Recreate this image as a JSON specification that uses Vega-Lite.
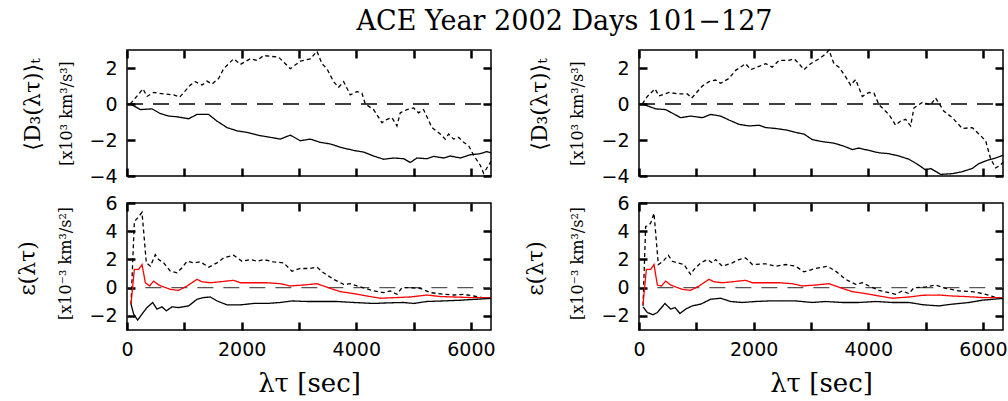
{
  "$schema": "https://vega.github.io/schema/vega-lite/v6.json",
  "padding": {"left": 15, "top": 7, "right": 5, "bottom": 5},
  "background": "white",
  "title": {"text": "ACE Year 2002 Days 101−127", "font": "DejaVu Serif", "fontSize": 27, "fontWeight": "normal", "color": "black", "anchor": "middle", "dx": 53, "offset": 11},
  "config": {
    "view": {"stroke": "black", "strokeWidth": 1.5},
    "axis": {"zindex": 1, "ticks": true, "domain": false, "grid": false, "offset": -8, "tickColor": "black", "tickOpacity": 1, "tickWidth": 2.5, "tickSize": 8, "labelFont": "DejaVu Sans", "labelFontSize": 19, "labelColor": "black", "labelPadding": 10, "labelFlush": false, "labelOverlap": false, "titleFont": "DejaVu Serif", "titleFontWeight": "normal", "titleColor": "black"},
    "line": {"clip": true}
  },
  "datasets": {
    "d": [
      {"p":"TL","s":"zero","t":0,"v":0},{"p":"TL","s":"zero","t":6350,"v":0},
      {"p":"TR","s":"zero","t":0,"v":0},{"p":"TR","s":"zero","t":6350,"v":0},
      {"p":"BL","s":"zeroB","t":320,"v":0},{"p":"BL","s":"zeroB","t":6350,"v":0},
      {"p":"BR","s":"zeroB","t":320,"v":0},{"p":"BR","s":"zeroB","t":6350,"v":0},

      {"p":"TL","s":"dashed","t":58,"v":0},{"p":"TL","s":"dashed","t":279,"v":0.84},{"p":"TL","s":"dashed","t":349,"v":0.42},{"p":"TL","s":"dashed","t":465,"v":0.64},{"p":"TL","s":"dashed","t":640,"v":0.56},{"p":"TL","s":"dashed","t":814,"v":0.51},{"p":"TL","s":"dashed","t":919,"v":0.38},{"p":"TL","s":"dashed","t":1105,"v":1.05},{"p":"TL","s":"dashed","t":1190,"v":1.24},{"p":"TL","s":"dashed","t":1308,"v":1.05},{"p":"TL","s":"dashed","t":1395,"v":1.27},{"p":"TL","s":"dashed","t":1483,"v":1.11},{"p":"TL","s":"dashed","t":1599,"v":1.42},{"p":"TL","s":"dashed","t":1686,"v":1.96},{"p":"TL","s":"dashed","t":1860,"v":2.51},{"p":"TL","s":"dashed","t":1977,"v":2.2},{"p":"TL","s":"dashed","t":2151,"v":2.51},{"p":"TL","s":"dashed","t":2267,"v":2.42},{"p":"TL","s":"dashed","t":2384,"v":2.69},{"p":"TL","s":"dashed","t":2529,"v":2.64},{"p":"TL","s":"dashed","t":2645,"v":2.6},{"p":"TL","s":"dashed","t":2733,"v":2.33},{"p":"TL","s":"dashed","t":2849,"v":1.96},{"p":"TL","s":"dashed","t":3023,"v":2.38},{"p":"TL","s":"dashed","t":3198,"v":2.51},{"p":"TL","s":"dashed","t":3314,"v":2.93},{"p":"TL","s":"dashed","t":3401,"v":2.24},{"p":"TL","s":"dashed","t":3488,"v":1.96},{"p":"TL","s":"dashed","t":3605,"v":1.24},{"p":"TL","s":"dashed","t":3692,"v":0.93},{"p":"TL","s":"dashed","t":3779,"v":1.24},{"p":"TL","s":"dashed","t":3895,"v":0.51},{"p":"TL","s":"dashed","t":4012,"v":0.69},{"p":"TL","s":"dashed","t":4099,"v":0.6},{"p":"TL","s":"dashed","t":4157,"v":0},{"p":"TL","s":"dashed","t":4302,"v":-0.31},{"p":"TL","s":"dashed","t":4448,"v":-1.04},{"p":"TL","s":"dashed","t":4506,"v":-0.89},{"p":"TL","s":"dashed","t":4622,"v":-0.76},{"p":"TL","s":"dashed","t":4709,"v":-1.22},{"p":"TL","s":"dashed","t":4767,"v":-0.49},{"p":"TL","s":"dashed","t":4884,"v":-0.31},{"p":"TL","s":"dashed","t":5000,"v":-0.22},{"p":"TL","s":"dashed","t":5087,"v":-0.49},{"p":"TL","s":"dashed","t":5174,"v":-0.31},{"p":"TL","s":"dashed","t":5320,"v":-1.31},{"p":"TL","s":"dashed","t":5465,"v":-1.67},{"p":"TL","s":"dashed","t":5552,"v":-1.95},{"p":"TL","s":"dashed","t":5610,"v":-1.67},{"p":"TL","s":"dashed","t":5698,"v":-1.95},{"p":"TL","s":"dashed","t":5785,"v":-1.85},{"p":"TL","s":"dashed","t":5872,"v":-2.13},{"p":"TL","s":"dashed","t":5959,"v":-2.31},{"p":"TL","s":"dashed","t":6047,"v":-2.85},{"p":"TL","s":"dashed","t":6163,"v":-3.4},{"p":"TL","s":"dashed","t":6221,"v":-3.85},{"p":"TL","s":"dashed","t":6308,"v":-3.4},{"p":"TL","s":"dashed","t":6350,"v":-3.2},

      {"p":"TL","s":"solid","t":58,"v":0},{"p":"TL","s":"solid","t":233,"v":-0.31},{"p":"TL","s":"solid","t":436,"v":-0.27},{"p":"TL","s":"solid","t":581,"v":-0.53},{"p":"TL","s":"solid","t":727,"v":-0.67},{"p":"TL","s":"solid","t":872,"v":-0.71},{"p":"TL","s":"solid","t":1076,"v":-0.82},{"p":"TL","s":"solid","t":1221,"v":-0.58},{"p":"TL","s":"solid","t":1424,"v":-0.58},{"p":"TL","s":"solid","t":1570,"v":-0.95},{"p":"TL","s":"solid","t":1744,"v":-1.31},{"p":"TL","s":"solid","t":1919,"v":-1.49},{"p":"TL","s":"solid","t":2093,"v":-1.58},{"p":"TL","s":"solid","t":2209,"v":-1.67},{"p":"TL","s":"solid","t":2326,"v":-1.76},{"p":"TL","s":"solid","t":2500,"v":-1.85},{"p":"TL","s":"solid","t":2674,"v":-1.95},{"p":"TL","s":"solid","t":2849,"v":-1.73},{"p":"TL","s":"solid","t":3023,"v":-2.04},{"p":"TL","s":"solid","t":3198,"v":-1.95},{"p":"TL","s":"solid","t":3372,"v":-2.13},{"p":"TL","s":"solid","t":3547,"v":-2.22},{"p":"TL","s":"solid","t":3721,"v":-2.4},{"p":"TL","s":"solid","t":3953,"v":-2.58},{"p":"TL","s":"solid","t":4128,"v":-2.67},{"p":"TL","s":"solid","t":4302,"v":-2.89},{"p":"TL","s":"solid","t":4477,"v":-3.07},{"p":"TL","s":"solid","t":4651,"v":-3.0},{"p":"TL","s":"solid","t":4826,"v":-3.04},{"p":"TL","s":"solid","t":4942,"v":-3.25},{"p":"TL","s":"solid","t":5058,"v":-3.0},{"p":"TL","s":"solid","t":5233,"v":-3.04},{"p":"TL","s":"solid","t":5349,"v":-2.91},{"p":"TL","s":"solid","t":5523,"v":-3.0},{"p":"TL","s":"solid","t":5640,"v":-2.89},{"p":"TL","s":"solid","t":5814,"v":-3.0},{"p":"TL","s":"solid","t":5988,"v":-2.82},{"p":"TL","s":"solid","t":6163,"v":-2.76},{"p":"TL","s":"solid","t":6279,"v":-2.64},{"p":"TL","s":"solid","t":6350,"v":-2.71},

      {"p":"TR","s":"dashed","t":58,"v":0},{"p":"TR","s":"dashed","t":145,"v":0.42},{"p":"TR","s":"dashed","t":279,"v":0.84},{"p":"TR","s":"dashed","t":349,"v":0.45},{"p":"TR","s":"dashed","t":523,"v":0.64},{"p":"TR","s":"dashed","t":698,"v":0.56},{"p":"TR","s":"dashed","t":843,"v":0.56},{"p":"TR","s":"dashed","t":919,"v":0.33},{"p":"TR","s":"dashed","t":1105,"v":1.0},{"p":"TR","s":"dashed","t":1221,"v":1.24},{"p":"TR","s":"dashed","t":1337,"v":1.33},{"p":"TR","s":"dashed","t":1424,"v":1.15},{"p":"TR","s":"dashed","t":1570,"v":1.42},{"p":"TR","s":"dashed","t":1686,"v":1.87},{"p":"TR","s":"dashed","t":1860,"v":2.24},{"p":"TR","s":"dashed","t":1948,"v":1.91},{"p":"TR","s":"dashed","t":2093,"v":2.09},{"p":"TR","s":"dashed","t":2209,"v":2.24},{"p":"TR","s":"dashed","t":2326,"v":2.05},{"p":"TR","s":"dashed","t":2442,"v":2.42},{"p":"TR","s":"dashed","t":2616,"v":2.42},{"p":"TR","s":"dashed","t":2703,"v":2.51},{"p":"TR","s":"dashed","t":2791,"v":2.24},{"p":"TR","s":"dashed","t":2878,"v":1.91},{"p":"TR","s":"dashed","t":2994,"v":2.24},{"p":"TR","s":"dashed","t":3140,"v":2.51},{"p":"TR","s":"dashed","t":3256,"v":2.78},{"p":"TR","s":"dashed","t":3314,"v":3.0},{"p":"TR","s":"dashed","t":3401,"v":2.24},{"p":"TR","s":"dashed","t":3488,"v":2.05},{"p":"TR","s":"dashed","t":3605,"v":1.51},{"p":"TR","s":"dashed","t":3692,"v":1.05},{"p":"TR","s":"dashed","t":3779,"v":1.36},{"p":"TR","s":"dashed","t":3895,"v":0.42},{"p":"TR","s":"dashed","t":4012,"v":0.64},{"p":"TR","s":"dashed","t":4099,"v":0.6},{"p":"TR","s":"dashed","t":4186,"v":-0.04},{"p":"TR","s":"dashed","t":4360,"v":-0.58},{"p":"TR","s":"dashed","t":4477,"v":-1.18},{"p":"TR","s":"dashed","t":4564,"v":-0.95},{"p":"TR","s":"dashed","t":4651,"v":-0.85},{"p":"TR","s":"dashed","t":4738,"v":-1.22},{"p":"TR","s":"dashed","t":4797,"v":-0.22},{"p":"TR","s":"dashed","t":4942,"v":0.09},{"p":"TR","s":"dashed","t":5087,"v":-0.04},{"p":"TR","s":"dashed","t":5174,"v":0.33},{"p":"TR","s":"dashed","t":5320,"v":-0.4},{"p":"TR","s":"dashed","t":5465,"v":-0.76},{"p":"TR","s":"dashed","t":5640,"v":-1.36},{"p":"TR","s":"dashed","t":5814,"v":-1.31},{"p":"TR","s":"dashed","t":5959,"v":-1.76},{"p":"TR","s":"dashed","t":6047,"v":-2.04},{"p":"TR","s":"dashed","t":6134,"v":-3.04},{"p":"TR","s":"dashed","t":6221,"v":-3.55},{"p":"TR","s":"dashed","t":6308,"v":-3.4},{"p":"TR","s":"dashed","t":6350,"v":-3.22},

      {"p":"TR","s":"solid","t":58,"v":0},{"p":"TR","s":"solid","t":291,"v":-0.27},{"p":"TR","s":"solid","t":465,"v":-0.31},{"p":"TR","s":"solid","t":727,"v":-0.76},{"p":"TR","s":"solid","t":901,"v":-0.67},{"p":"TR","s":"solid","t":1105,"v":-0.76},{"p":"TR","s":"solid","t":1250,"v":-0.58},{"p":"TR","s":"solid","t":1424,"v":-0.67},{"p":"TR","s":"solid","t":1570,"v":-0.89},{"p":"TR","s":"solid","t":1744,"v":-1.13},{"p":"TR","s":"solid","t":1919,"v":-1.22},{"p":"TR","s":"solid","t":2093,"v":-1.18},{"p":"TR","s":"solid","t":2209,"v":-1.31},{"p":"TR","s":"solid","t":2384,"v":-1.36},{"p":"TR","s":"solid","t":2558,"v":-1.44},{"p":"TR","s":"solid","t":2733,"v":-1.58},{"p":"TR","s":"solid","t":2878,"v":-1.67},{"p":"TR","s":"solid","t":3023,"v":-1.98},{"p":"TR","s":"solid","t":3198,"v":-2.09},{"p":"TR","s":"solid","t":3372,"v":-2.16},{"p":"TR","s":"solid","t":3547,"v":-2.31},{"p":"TR","s":"solid","t":3721,"v":-2.53},{"p":"TR","s":"solid","t":3837,"v":-2.45},{"p":"TR","s":"solid","t":4012,"v":-2.58},{"p":"TR","s":"solid","t":4186,"v":-2.71},{"p":"TR","s":"solid","t":4360,"v":-2.76},{"p":"TR","s":"solid","t":4535,"v":-2.89},{"p":"TR","s":"solid","t":4709,"v":-3.07},{"p":"TR","s":"solid","t":4884,"v":-3.4},{"p":"TR","s":"solid","t":5000,"v":-3.67},{"p":"TR","s":"solid","t":5087,"v":-3.58},{"p":"TR","s":"solid","t":5262,"v":-3.91},{"p":"TR","s":"solid","t":5465,"v":-3.87},{"p":"TR","s":"solid","t":5640,"v":-3.76},{"p":"TR","s":"solid","t":5814,"v":-3.58},{"p":"TR","s":"solid","t":5930,"v":-3.31},{"p":"TR","s":"solid","t":6076,"v":-3.13},{"p":"TR","s":"solid","t":6221,"v":-3.0},{"p":"TR","s":"solid","t":6350,"v":-2.85},

      {"p":"BL","s":"dashed","t":70,"v":-1.17},{"p":"BL","s":"dashed","t":128,"v":4.68},{"p":"BL","s":"dashed","t":203,"v":5.03},{"p":"BL","s":"dashed","t":262,"v":5.34},{"p":"BL","s":"dashed","t":337,"v":1.76},{"p":"BL","s":"dashed","t":407,"v":1.52},{"p":"BL","s":"dashed","t":494,"v":2.34},{"p":"BL","s":"dashed","t":552,"v":1.99},{"p":"BL","s":"dashed","t":640,"v":1.76},{"p":"BL","s":"dashed","t":756,"v":1.17},{"p":"BL","s":"dashed","t":872,"v":1.05},{"p":"BL","s":"dashed","t":959,"v":1.41},{"p":"BL","s":"dashed","t":1047,"v":1.87},{"p":"BL","s":"dashed","t":1163,"v":1.76},{"p":"BL","s":"dashed","t":1279,"v":1.83},{"p":"BL","s":"dashed","t":1424,"v":1.45},{"p":"BL","s":"dashed","t":1570,"v":1.76},{"p":"BL","s":"dashed","t":1686,"v":2.11},{"p":"BL","s":"dashed","t":1860,"v":2.3},{"p":"BL","s":"dashed","t":2006,"v":1.87},{"p":"BL","s":"dashed","t":2151,"v":1.99},{"p":"BL","s":"dashed","t":2267,"v":1.87},{"p":"BL","s":"dashed","t":2384,"v":1.99},{"p":"BL","s":"dashed","t":2558,"v":1.83},{"p":"BL","s":"dashed","t":2733,"v":1.76},{"p":"BL","s":"dashed","t":2878,"v":1.17},{"p":"BL","s":"dashed","t":3023,"v":1.36},{"p":"BL","s":"dashed","t":3198,"v":1.36},{"p":"BL","s":"dashed","t":3314,"v":1.45},{"p":"BL","s":"dashed","t":3430,"v":1.05},{"p":"BL","s":"dashed","t":3605,"v":0.59},{"p":"BL","s":"dashed","t":3779,"v":0.23},{"p":"BL","s":"dashed","t":3895,"v":0.28},{"p":"BL","s":"dashed","t":4012,"v":0.12},{"p":"BL","s":"dashed","t":4157,"v":-0.05},{"p":"BL","s":"dashed","t":4302,"v":-0.23},{"p":"BL","s":"dashed","t":4477,"v":-0.35},{"p":"BL","s":"dashed","t":4593,"v":-0.23},{"p":"BL","s":"dashed","t":4709,"v":-0.47},{"p":"BL","s":"dashed","t":4797,"v":0.0},{"p":"BL","s":"dashed","t":4942,"v":0.0},{"p":"BL","s":"dashed","t":5116,"v":-0.05},{"p":"BL","s":"dashed","t":5291,"v":-0.35},{"p":"BL","s":"dashed","t":5523,"v":-0.47},{"p":"BL","s":"dashed","t":5698,"v":-0.52},{"p":"BL","s":"dashed","t":5872,"v":-0.47},{"p":"BL","s":"dashed","t":6047,"v":-0.59},{"p":"BL","s":"dashed","t":6192,"v":-0.7},{"p":"BL","s":"dashed","t":6350,"v":-0.75},

      {"p":"BL","s":"red","t":70,"v":-1.17},{"p":"BL","s":"red","t":128,"v":1.29},{"p":"BL","s":"red","t":203,"v":1.29},{"p":"BL","s":"red","t":262,"v":1.64},{"p":"BL","s":"red","t":320,"v":0.35},{"p":"BL","s":"red","t":395,"v":0.12},{"p":"BL","s":"red","t":465,"v":0.47},{"p":"BL","s":"red","t":552,"v":0.19},{"p":"BL","s":"red","t":640,"v":0.05},{"p":"BL","s":"red","t":756,"v":-0.12},{"p":"BL","s":"red","t":901,"v":-0.19},{"p":"BL","s":"red","t":1047,"v":0.12},{"p":"BL","s":"red","t":1221,"v":0.59},{"p":"BL","s":"red","t":1308,"v":0.42},{"p":"BL","s":"red","t":1453,"v":0.35},{"p":"BL","s":"red","t":1628,"v":0.42},{"p":"BL","s":"red","t":1860,"v":0.52},{"p":"BL","s":"red","t":1977,"v":0.35},{"p":"BL","s":"red","t":2209,"v":0.35},{"p":"BL","s":"red","t":2442,"v":0.35},{"p":"BL","s":"red","t":2674,"v":0.28},{"p":"BL","s":"red","t":2849,"v":0.12},{"p":"BL","s":"red","t":3081,"v":0.19},{"p":"BL","s":"red","t":3314,"v":0.28},{"p":"BL","s":"red","t":3547,"v":-0.05},{"p":"BL","s":"red","t":3721,"v":-0.28},{"p":"BL","s":"red","t":3953,"v":-0.42},{"p":"BL","s":"red","t":4186,"v":-0.59},{"p":"BL","s":"red","t":4419,"v":-0.75},{"p":"BL","s":"red","t":4709,"v":-0.7},{"p":"BL","s":"red","t":4942,"v":-0.66},{"p":"BL","s":"red","t":5233,"v":-0.52},{"p":"BL","s":"red","t":5465,"v":-0.63},{"p":"BL","s":"red","t":5698,"v":-0.66},{"p":"BL","s":"red","t":5988,"v":-0.7},{"p":"BL","s":"red","t":6350,"v":-0.72},

      {"p":"BL","s":"solid","t":70,"v":-1.17},{"p":"BL","s":"solid","t":116,"v":-1.87},{"p":"BL","s":"solid","t":186,"v":-2.3},{"p":"BL","s":"solid","t":262,"v":-1.87},{"p":"BL","s":"solid","t":349,"v":-1.41},{"p":"BL","s":"solid","t":448,"v":-1.05},{"p":"BL","s":"solid","t":523,"v":-1.52},{"p":"BL","s":"solid","t":610,"v":-1.36},{"p":"BL","s":"solid","t":686,"v":-1.64},{"p":"BL","s":"solid","t":785,"v":-1.36},{"p":"BL","s":"solid","t":901,"v":-1.41},{"p":"BL","s":"solid","t":1076,"v":-1.29},{"p":"BL","s":"solid","t":1221,"v":-0.82},{"p":"BL","s":"solid","t":1337,"v":-0.7},{"p":"BL","s":"solid","t":1453,"v":-0.66},{"p":"BL","s":"solid","t":1570,"v":-0.94},{"p":"BL","s":"solid","t":1744,"v":-1.22},{"p":"BL","s":"solid","t":1977,"v":-1.22},{"p":"BL","s":"solid","t":2209,"v":-1.12},{"p":"BL","s":"solid","t":2442,"v":-1.12},{"p":"BL","s":"solid","t":2674,"v":-1.05},{"p":"BL","s":"solid","t":2878,"v":-0.94},{"p":"BL","s":"solid","t":3140,"v":-0.98},{"p":"BL","s":"solid","t":3372,"v":-0.98},{"p":"BL","s":"solid","t":3663,"v":-0.98},{"p":"BL","s":"solid","t":3953,"v":-1.05},{"p":"BL","s":"solid","t":4302,"v":-1.12},{"p":"BL","s":"solid","t":4535,"v":-1.08},{"p":"BL","s":"solid","t":4826,"v":-1.05},{"p":"BL","s":"solid","t":5000,"v":-1.12},{"p":"BL","s":"solid","t":5233,"v":-0.98},{"p":"BL","s":"solid","t":5523,"v":-0.94},{"p":"BL","s":"solid","t":5814,"v":-0.89},{"p":"BL","s":"solid","t":6105,"v":-0.82},{"p":"BL","s":"solid","t":6350,"v":-0.76},

      {"p":"BR","s":"dashed","t":70,"v":-1.29},{"p":"BR","s":"dashed","t":116,"v":4.33},{"p":"BR","s":"dashed","t":163,"v":4.4},{"p":"BR","s":"dashed","t":203,"v":4.57},{"p":"BR","s":"dashed","t":262,"v":5.27},{"p":"BR","s":"dashed","t":337,"v":1.64},{"p":"BR","s":"dashed","t":419,"v":1.87},{"p":"BR","s":"dashed","t":512,"v":2.3},{"p":"BR","s":"dashed","t":581,"v":1.87},{"p":"BR","s":"dashed","t":669,"v":1.76},{"p":"BR","s":"dashed","t":785,"v":1.64},{"p":"BR","s":"dashed","t":901,"v":0.94},{"p":"BR","s":"dashed","t":959,"v":1.29},{"p":"BR","s":"dashed","t":1076,"v":1.76},{"p":"BR","s":"dashed","t":1192,"v":1.99},{"p":"BR","s":"dashed","t":1279,"v":1.76},{"p":"BR","s":"dashed","t":1337,"v":1.99},{"p":"BR","s":"dashed","t":1453,"v":1.52},{"p":"BR","s":"dashed","t":1628,"v":1.76},{"p":"BR","s":"dashed","t":1744,"v":1.99},{"p":"BR","s":"dashed","t":1860,"v":2.11},{"p":"BR","s":"dashed","t":1977,"v":1.64},{"p":"BR","s":"dashed","t":2209,"v":1.69},{"p":"BR","s":"dashed","t":2384,"v":1.52},{"p":"BR","s":"dashed","t":2558,"v":1.64},{"p":"BR","s":"dashed","t":2733,"v":1.52},{"p":"BR","s":"dashed","t":2878,"v":1.12},{"p":"BR","s":"dashed","t":3081,"v":1.36},{"p":"BR","s":"dashed","t":3285,"v":1.52},{"p":"BR","s":"dashed","t":3430,"v":1.17},{"p":"BR","s":"dashed","t":3605,"v":0.59},{"p":"BR","s":"dashed","t":3779,"v":0.23},{"p":"BR","s":"dashed","t":3895,"v":0.35},{"p":"BR","s":"dashed","t":4012,"v":0.12},{"p":"BR","s":"dashed","t":4186,"v":-0.19},{"p":"BR","s":"dashed","t":4360,"v":-0.35},{"p":"BR","s":"dashed","t":4477,"v":-0.47},{"p":"BR","s":"dashed","t":4593,"v":-0.23},{"p":"BR","s":"dashed","t":4709,"v":-0.42},{"p":"BR","s":"dashed","t":4797,"v":0.0},{"p":"BR","s":"dashed","t":5000,"v":0.05},{"p":"BR","s":"dashed","t":5174,"v":0.19},{"p":"BR","s":"dashed","t":5349,"v":-0.05},{"p":"BR","s":"dashed","t":5581,"v":-0.23},{"p":"BR","s":"dashed","t":5814,"v":-0.28},{"p":"BR","s":"dashed","t":6047,"v":-0.47},{"p":"BR","s":"dashed","t":6192,"v":-0.66},{"p":"BR","s":"dashed","t":6350,"v":-0.75},

      {"p":"BR","s":"red","t":70,"v":-1.22},{"p":"BR","s":"red","t":128,"v":1.29},{"p":"BR","s":"red","t":203,"v":1.29},{"p":"BR","s":"red","t":262,"v":1.64},{"p":"BR","s":"red","t":320,"v":0.19},{"p":"BR","s":"red","t":395,"v":0.12},{"p":"BR","s":"red","t":465,"v":0.47},{"p":"BR","s":"red","t":552,"v":0.19},{"p":"BR","s":"red","t":640,"v":0.05},{"p":"BR","s":"red","t":756,"v":-0.12},{"p":"BR","s":"red","t":901,"v":-0.19},{"p":"BR","s":"red","t":1047,"v":0.12},{"p":"BR","s":"red","t":1221,"v":0.59},{"p":"BR","s":"red","t":1308,"v":0.42},{"p":"BR","s":"red","t":1453,"v":0.35},{"p":"BR","s":"red","t":1628,"v":0.42},{"p":"BR","s":"red","t":1860,"v":0.52},{"p":"BR","s":"red","t":1977,"v":0.35},{"p":"BR","s":"red","t":2209,"v":0.35},{"p":"BR","s":"red","t":2442,"v":0.35},{"p":"BR","s":"red","t":2674,"v":0.28},{"p":"BR","s":"red","t":2849,"v":0.12},{"p":"BR","s":"red","t":3081,"v":0.19},{"p":"BR","s":"red","t":3314,"v":0.28},{"p":"BR","s":"red","t":3547,"v":-0.05},{"p":"BR","s":"red","t":3721,"v":-0.28},{"p":"BR","s":"red","t":3953,"v":-0.42},{"p":"BR","s":"red","t":4186,"v":-0.59},{"p":"BR","s":"red","t":4419,"v":-0.75},{"p":"BR","s":"red","t":4709,"v":-0.66},{"p":"BR","s":"red","t":4942,"v":-0.54},{"p":"BR","s":"red","t":5233,"v":-0.52},{"p":"BR","s":"red","t":5465,"v":-0.59},{"p":"BR","s":"red","t":5698,"v":-0.63},{"p":"BR","s":"red","t":5988,"v":-0.7},{"p":"BR","s":"red","t":6350,"v":-0.72},

      {"p":"BR","s":"solid","t":70,"v":-1.36},{"p":"BR","s":"solid","t":145,"v":-1.76},{"p":"BR","s":"solid","t":244,"v":-1.92},{"p":"BR","s":"solid","t":320,"v":-1.76},{"p":"BR","s":"solid","t":453,"v":-1.12},{"p":"BR","s":"solid","t":552,"v":-1.52},{"p":"BR","s":"solid","t":628,"v":-1.41},{"p":"BR","s":"solid","t":715,"v":-1.83},{"p":"BR","s":"solid","t":814,"v":-1.52},{"p":"BR","s":"solid","t":930,"v":-1.29},{"p":"BR","s":"solid","t":1076,"v":-1.17},{"p":"BR","s":"solid","t":1250,"v":-0.82},{"p":"BR","s":"solid","t":1424,"v":-0.75},{"p":"BR","s":"solid","t":1599,"v":-0.98},{"p":"BR","s":"solid","t":1802,"v":-1.05},{"p":"BR","s":"solid","t":2035,"v":-0.98},{"p":"BR","s":"solid","t":2267,"v":-0.94},{"p":"BR","s":"solid","t":2500,"v":-0.94},{"p":"BR","s":"solid","t":2733,"v":-0.94},{"p":"BR","s":"solid","t":3023,"v":-1.05},{"p":"BR","s":"solid","t":3256,"v":-0.98},{"p":"BR","s":"solid","t":3547,"v":-1.05},{"p":"BR","s":"solid","t":3837,"v":-1.05},{"p":"BR","s":"solid","t":4128,"v":-0.98},{"p":"BR","s":"solid","t":4419,"v":-1.05},{"p":"BR","s":"solid","t":4709,"v":-1.05},{"p":"BR","s":"solid","t":4971,"v":-1.22},{"p":"BR","s":"solid","t":5233,"v":-1.29},{"p":"BR","s":"solid","t":5465,"v":-1.17},{"p":"BR","s":"solid","t":5756,"v":-1.05},{"p":"BR","s":"solid","t":5988,"v":-0.89},{"p":"BR","s":"solid","t":6350,"v":-0.76}
    ]
  },
  "spacing": 27,
  "hconcat": [
    {
      "bounds": "flush",
      "spacing": 27,
      "vconcat": [
        {
          "width": 364, "height": 126,
          "data": {"name": "d"},
          "transform": [{"filter": "datum.p === 'TL'"}],
          "layer": [
            {
              "mark": {"type": "line"},
              "encoding": {
                "x": {"field": "t", "type": "quantitative", "scale": {"domain": [0, 6350], "nice": false, "zero": false}, "axis": {"orient": "bottom", "values": [0,1000,2000,3000,4000,5000,6000], "labels": false, "title": null}},
                "y": {"field": "v", "type": "quantitative", "scale": {"domain": [-4, 3], "nice": false, "zero": false}, "axis": {"orient": "left", "values": [-4,-2,0,2], "title": "[x10³ km³/s³]", "titleFontSize": 16, "titleX": -69, "titleY": 63, "titleBaseline": "middle", "titleAngle": 270}},
                "color": {"field": "s", "type": "nominal", "scale": {"domain": ["zero","zeroB","solid","dashed","red"], "range": ["black","#555555","black","black","#ff0000"]}, "legend": null},
                "strokeDash": {"field": "s", "type": "nominal", "scale": {"domain": ["zero","zeroB","solid","dashed","red"], "range": [[16,10],[16,10],[1,0],[4,3],[1,0]]}, "legend": null},
                "strokeWidth": {"field": "s", "type": "ordinal", "scale": {"domain": ["zero","zeroB","solid","dashed","red"], "range": [1.3,1.3,1.3,1.1,1.6]}, "legend": null}
              }
            },
            {
              "mark": {"type": "point", "opacity": 0},
              "encoding": {
                "x": {"field": "t", "type": "quantitative", "axis": {"orient": "top", "values": [0,1000,2000,3000,4000,5000,6000], "labels": false, "title": null}},
                "y": {"field": "v", "type": "quantitative", "axis": {"orient": "right", "values": [-4,-2,0,2], "labels": false, "title": null}}
              }
            },
            {
              "mark": {"type": "point", "opacity": 0},
              "encoding": {
                "x": {"field": "t", "type": "quantitative", "axis": null},
                "y": {"field": "v", "type": "quantitative", "axis": {"orient": "left", "labels": false, "ticks": false, "title": "⟨D₃(λτ)⟩ₜ", "titleFontSize": 22, "titleX": -103, "titleY": 54, "titleBaseline": "middle", "titleAngle": 270}}
              }
            }
          ],
          "resolve": {"axis": {"x": "independent", "y": "independent"}}
        },
        {
          "width": 364, "height": 127,
          "data": {"name": "d"},
          "transform": [{"filter": "datum.p === 'BL'"}],
          "layer": [
            {
              "mark": {"type": "line"},
              "encoding": {
                "x": {"field": "t", "type": "quantitative", "scale": {"domain": [0, 6350], "nice": false, "zero": false}, "axis": {"orient": "bottom", "values": [0,1000,2000,3000,4000,5000,6000], "format": "d", "labelExpr": "datum.value % 2000 === 0 ? datum.label : ''", "title": "λτ [sec]", "titleFontSize": 26, "titleY": 61, "titleBaseline": "middle"}},
                "y": {"field": "v", "type": "quantitative", "scale": {"domain": [-3, 6], "nice": false, "zero": false}, "axis": {"orient": "left", "values": [-2,0,2,4,6], "title": "[x10⁻³ km³/s²]", "titleFontSize": 16, "titleX": -70, "titleY": 60, "titleBaseline": "middle", "titleAngle": 270}},
                "color": {"field": "s", "type": "nominal", "scale": {"domain": ["zero","zeroB","solid","dashed","red"], "range": ["black","#555555","black","black","#ff0000"]}, "legend": null},
                "strokeDash": {"field": "s", "type": "nominal", "scale": {"domain": ["zero","zeroB","solid","dashed","red"], "range": [[16,10],[16,10],[1,0],[4,3],[1,0]]}, "legend": null},
                "strokeWidth": {"field": "s", "type": "ordinal", "scale": {"domain": ["zero","zeroB","solid","dashed","red"], "range": [1.3,1.3,1.3,1.1,1.6]}, "legend": null}
              }
            },
            {
              "mark": {"type": "point", "opacity": 0},
              "encoding": {
                "x": {"field": "t", "type": "quantitative", "axis": {"orient": "top", "values": [0,1000,2000,3000,4000,5000,6000], "labels": false, "title": null}},
                "y": {"field": "v", "type": "quantitative", "axis": {"orient": "right", "values": [-2,0,2,4], "labels": false, "title": null}}
              }
            },
            {
              "mark": {"type": "point", "opacity": 0},
              "encoding": {
                "x": {"field": "t", "type": "quantitative", "axis": null},
                "y": {"field": "v", "type": "quantitative", "axis": {"orient": "left", "labels": false, "ticks": false, "title": "ε(λτ)", "titleFontSize": 22, "titleX": -108, "titleY": 65, "titleBaseline": "middle", "titleAngle": 270}}
              }
            }
          ],
          "resolve": {"axis": {"x": "independent", "y": "independent"}}
        }
      ]
    },
    {
      "bounds": "flush",
      "spacing": 27,
      "vconcat": [
        {
          "width": 364, "height": 126,
          "data": {"name": "d"},
          "transform": [{"filter": "datum.p === 'TR'"}],
          "layer": [
            {
              "mark": {"type": "line"},
              "encoding": {
                "x": {"field": "t", "type": "quantitative", "scale": {"domain": [0, 6350], "nice": false, "zero": false}, "axis": {"orient": "bottom", "values": [0,1000,2000,3000,4000,5000,6000], "labels": false, "title": null}},
                "y": {"field": "v", "type": "quantitative", "scale": {"domain": [-4, 3], "nice": false, "zero": false}, "axis": {"orient": "left", "values": [-4,-2,0,2], "title": "[x10³ km³/s³]", "titleFontSize": 16, "titleX": -70, "titleY": 63, "titleBaseline": "middle", "titleAngle": 270}},
                "color": {"field": "s", "type": "nominal", "scale": {"domain": ["zero","zeroB","solid","dashed","red"], "range": ["black","#555555","black","black","#ff0000"]}, "legend": null},
                "strokeDash": {"field": "s", "type": "nominal", "scale": {"domain": ["zero","zeroB","solid","dashed","red"], "range": [[16,10],[16,10],[1,0],[4,3],[1,0]]}, "legend": null},
                "strokeWidth": {"field": "s", "type": "ordinal", "scale": {"domain": ["zero","zeroB","solid","dashed","red"], "range": [1.3,1.3,1.3,1.1,1.6]}, "legend": null}
              }
            },
            {
              "mark": {"type": "point", "opacity": 0},
              "encoding": {
                "x": {"field": "t", "type": "quantitative", "axis": {"orient": "top", "values": [0,1000,2000,3000,4000,5000,6000], "labels": false, "title": null}},
                "y": {"field": "v", "type": "quantitative", "axis": {"orient": "right", "values": [-4,-2,0,2], "labels": false, "title": null}}
              }
            },
            {
              "mark": {"type": "point", "opacity": 0},
              "encoding": {
                "x": {"field": "t", "type": "quantitative", "axis": null},
                "y": {"field": "v", "type": "quantitative", "axis": {"orient": "left", "labels": false, "ticks": false, "title": "⟨D₃(λτ)⟩ₜ", "titleFontSize": 22, "titleX": -108, "titleY": 54, "titleBaseline": "middle", "titleAngle": 270}}
              }
            }
          ],
          "resolve": {"axis": {"x": "independent", "y": "independent"}}
        },
        {
          "width": 364, "height": 127,
          "data": {"name": "d"},
          "transform": [{"filter": "datum.p === 'BR'"}],
          "layer": [
            {
              "mark": {"type": "line"},
              "encoding": {
                "x": {"field": "t", "type": "quantitative", "scale": {"domain": [0, 6350], "nice": false, "zero": false}, "axis": {"orient": "bottom", "values": [0,1000,2000,3000,4000,5000,6000], "format": "d", "labelExpr": "datum.value % 2000 === 0 ? datum.label : ''", "title": "λτ [sec]", "titleFontSize": 26, "titleY": 61, "titleBaseline": "middle"}},
                "y": {"field": "v", "type": "quantitative", "scale": {"domain": [-3, 6], "nice": false, "zero": false}, "axis": {"orient": "left", "values": [-2,0,2,4,6], "title": "[x10⁻³ km³/s²]", "titleFontSize": 16, "titleX": -70, "titleY": 60, "titleBaseline": "middle", "titleAngle": 270}},
                "color": {"field": "s", "type": "nominal", "scale": {"domain": ["zero","zeroB","solid","dashed","red"], "range": ["black","#555555","black","black","#ff0000"]}, "legend": null},
                "strokeDash": {"field": "s", "type": "nominal", "scale": {"domain": ["zero","zeroB","solid","dashed","red"], "range": [[16,10],[16,10],[1,0],[4,3],[1,0]]}, "legend": null},
                "strokeWidth": {"field": "s", "type": "ordinal", "scale": {"domain": ["zero","zeroB","solid","dashed","red"], "range": [1.3,1.3,1.3,1.1,1.6]}, "legend": null}
              }
            },
            {
              "mark": {"type": "point", "opacity": 0},
              "encoding": {
                "x": {"field": "t", "type": "quantitative", "axis": {"orient": "top", "values": [0,1000,2000,3000,4000,5000,6000], "labels": false, "title": null}},
                "y": {"field": "v", "type": "quantitative", "axis": {"orient": "right", "values": [-2,0,2,4], "labels": false, "title": null}}
              }
            },
            {
              "mark": {"type": "point", "opacity": 0},
              "encoding": {
                "x": {"field": "t", "type": "quantitative", "axis": null},
                "y": {"field": "v", "type": "quantitative", "axis": {"orient": "left", "labels": false, "ticks": false, "title": "ε(λτ)", "titleFontSize": 22, "titleX": -112, "titleY": 65, "titleBaseline": "middle", "titleAngle": 270}}
              }
            }
          ],
          "resolve": {"axis": {"x": "independent", "y": "independent"}}
        }
      ]
    }
  ]
}
